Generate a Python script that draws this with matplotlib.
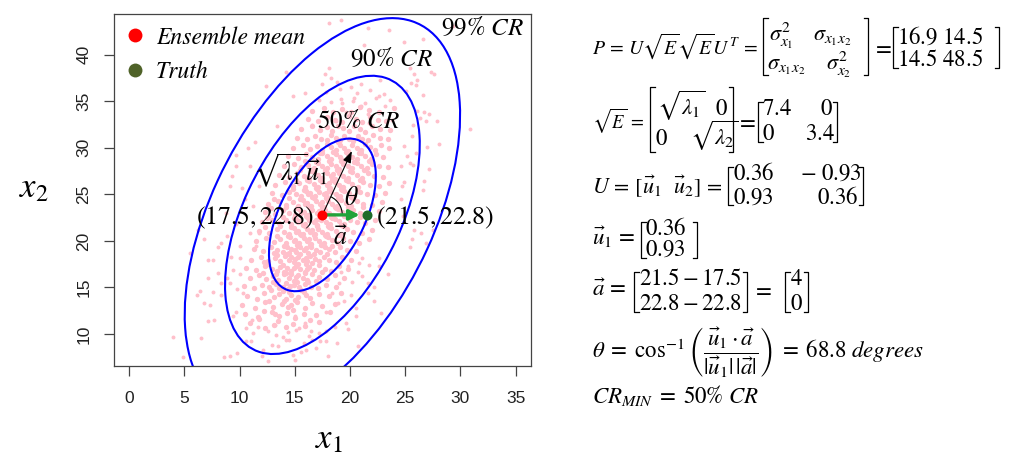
import numpy as np
import matplotlib
matplotlib.use("Agg")
import matplotlib.pyplot as plt
from matplotlib.patches import Ellipse, Arc
from matplotlib.lines import Line2D

plt.rcParams['mathtext.fontset'] = 'stix'

# ---------------- data ----------------
mean_pt = [17.5, 22.8]
truth_pt = [21.5, 22.8]
cov_P = [[16.9, 14.5], [14.5, 48.5]]
cr_levels = [0.50, 0.90, 0.99]
cr_labels = [r'$50\%\ CR$', r'$90\%\ CR$', r'$99\%\ CR$']
x_ticks = [0, 5, 10, 15, 20, 25, 30, 35]
y_ticks = [10, 15, 20, 25, 30, 35, 40]
x_range = [0, 35]
y_range = [8, 43]

# ensemble members: sparse outer members
ensemble_outer = [
(12.4,36.6),(13.4,32.3),(19.2,43.7),(18.1,43.4),(21.6,42.9),(23.5,42.7),(21.3,41.1),(18.1,38.6),(17.7,37.9),(18.3,37.5),
(17.5,36.9),(20.1,36.5),(15.9,35.9),(20.4,35.4),(19.3,34.8),(21.0,34.5),(22.6,35.6),(23.2,34.5),(19.6,33.8),(21.7,32.7),
(16.6,32.5),(18.7,32.9),(23.8,33.0),(22.6,33.8),(21.6,33.6),(14.2,38.1),(14.8,35.6),(26.6,41.7),(24.9,41.4),(25.4,38.6),
(25.8,37.9),(26.1,37.3),(27.3,38.1),(27.6,37.9),(25.5,37.0),(26.0,36.8),(26.6,35.7),(25.1,36.1),(26.1,34.0),(26.7,33.8),
(27.2,33.6),(27.9,32.9),(26.9,32.9),(25.7,32.5),(26.3,33.2),(30.9,32.0),(29.3,43.1),(27.0,30.1),(28.1,30.4),(27.2,27.7),
(26.7,26.4),(26.6,25.5),(27.5,21.2),(26.4,20.9),(26.9,19.8),(25.8,21.2),(25.6,20.2),(25.4,19.3),(24.8,22.7),(25.6,31.3),
(24.9,30.2),(25.2,29.1),(24.6,28.1),(25.4,28.4),(24.9,26.3),(24.7,25.9),(24.6,24.5),(26.0,29.5),(25.7,28.2),(11.4,30.6),
(10.8,30.0),(9.7,29.2),(10.9,28.0),(9.7,28.0),(9.3,27.0),(10.2,25.7),(9.1,25.9),(10.5,24.5),(8.8,23.0),(9.7,21.8),
(10.9,20.9),(6.8,20.2),(8.9,20.5),(6.2,21.2),(8.3,19.8),(8.0,19.3),(10.0,19.5),(11.5,19.5),(11.8,20.9),(12.7,22.7),
(11.2,23.8),(11.8,25.9),(4.0,9.7),(4.9,7.5),(6.5,9.6),(7.1,11.4),(7.7,11.5),(6.8,13.3),(7.3,13.1),(6.4,14.6),
(6.1,14.2),(7.6,14.5),(8.0,16.6),(7.1,16.0),(7.6,18.0),(7.1,18.0),(8.3,15.5),(8.3,14.2),(5.5,18.7),(9.1,7.6),
(8.6,7.5),(9.7,12.4),(9.4,11.9),(10.6,9.2),(9.8,8.0),(10.6,10.6),(11.1,11.5),(11.7,10.8),(12.0,7.6),(12.6,7.1),
(13.2,11.0),(9.4,16.9),(10.0,16.4),(9.8,14.8),(10.3,14.4),(9.1,15.5),(8.9,16.0),(9.2,18.3),(10.0,18.2),(22.6,17.3),
(23.4,16.4),(22.2,13.5),(22.8,12.3),(20.7,8.7),(19.6,11.2),(19.8,10.5),(20.5,11.9),(19.5,13.5),(20.5,12.8),(20.1,14.2),
(21.6,14.4),(21.6,15.5),(20.8,17.6),(21.1,18.2),(21.7,17.4),(22.6,18.2),(20.2,15.6),(19.0,15.5),(18.4,14.4),(18.9,13.3),
(17.8,12.4),(18.6,10.8),(17.2,10.1),(18.8,9.0),(17.8,9.2),(18.0,7.6),(15.0,7.2),(16.0,8.3),(16.6,9.4),(16.5,10.3),
(15.4,10.6),(14.5,9.4),(15.9,11.2),(15.0,11.9),(22.2,15.1),(19.2,16.7),(19.8,17.3),(20.7,16.7),(21.1,16.2),
(12.1,8.3),(14.8,7.8),(16.9,8.5),(15.6,8.1),(11.0,9.2),(12.9,8.8),(14.2,9.4),(15.8,9.0),(13.5,8.7),(17.3,9.3),
(11.2,10.1),(13.9,9.7),(15.1,10.4),(12.6,10.3),(16.3,9.8),(14.4,10.2),(13.3,9.9),(17.8,10.3),
(17.8,36.0),(19.1,36.3),(20.6,35.9),(21.8,36.2),(23.1,35.8),(18.8,37.1),(21.0,36.9),(22.7,37.3),
(17.2,35.1),(18.3,34.9),(19.2,35.3),(20.3,35.0),(21.4,34.8),(22.4,35.4),(23.6,35.1),
]

# dense core members (approximate)
ensemble_core = [
(10.9,11.2),(12.3,10.7),(13.5,11.4),(14.8,11.1),(15.9,10.9),(17.2,11.3),(13.1,11.0),(11.8,11.6),(14.2,10.8),(16.4,11.5),
(10.5,12.1),(11.7,11.8),(12.9,12.4),(13.6,11.9),(14.3,12.3),(15.0,11.7),(15.8,12.2),(16.9,12.0),(18.2,12.4),(14.8,12.6),(13.2,12.1),(12.2,12.5),
(10.2,13.1),(11.4,12.8),(12.3,13.4),(13.0,12.9),(13.8,13.2),(14.4,12.9),(15.2,13.4),(15.9,12.8),(16.6,13.3),(17.5,13.0),(14.0,13.6),(12.7,13.6),(14.7,13.1),(18.6,13.2),
(10.7,14.1),(11.6,13.8),(12.2,14.4),(13.1,14.0),(13.6,14.3),(14.2,13.8),(14.7,14.2),(15.3,14.0),(15.8,14.5),(16.4,13.9),(17.2,14.3),(18.1,14.1),(13.9,14.6),(15.0,13.7),(12.8,14.7),(14.5,14.5),(16.0,14.2),(19.2,14.4),
(10.4,15.2),(11.3,14.9),(12.0,15.3),(12.7,15.0),(13.3,15.4),(13.9,15.1),(14.4,14.8),(14.9,15.3),(15.4,15.0),(15.9,15.4),(16.5,15.1),(17.1,14.9),(17.8,15.3),(18.7,15.0),(14.2,15.5),(15.6,14.7),(13.0,15.6),(16.2,15.6),(14.6,15.2),(15.2,15.6),(13.6,14.9),
(10.9,16.0),(11.8,16.3),(12.4,15.9),(13.0,16.2),(13.5,15.8),(14.0,16.4),(14.5,16.0),(14.9,15.7),(15.3,16.3),(15.7,16.0),(16.1,15.8),(16.6,16.4),(17.2,16.1),(17.9,15.9),(18.6,16.3),(19.5,16.0),(14.2,16.6),(15.9,16.6),(13.3,16.5),(16.9,15.7),(12.1,16.6),(15.1,16.1),(14.7,16.5),
(10.6,17.1),(11.5,16.9),(12.3,17.3),(12.9,17.0),(13.4,16.8),(13.9,17.4),(14.3,17.1),(14.7,16.8),(15.1,17.3),(15.5,17.0),(15.9,16.7),(16.3,17.2),(16.7,16.9),(17.2,17.4),(17.7,17.0),(18.3,16.8),(19.0,17.3),(19.8,17.0),(14.0,16.7),(15.3,17.5),(16.0,17.5),(12.6,17.5),(17.5,16.7),(13.7,17.2),(14.9,17.1),(16.1,17.0),
(11.0,18.0),(11.9,18.3),(12.6,17.9),(13.2,18.2),(13.7,17.8),(14.1,18.4),(14.5,18.0),(14.9,17.7),(15.3,18.3),(15.7,18.0),(16.1,17.8),(16.4,18.4),(16.8,18.1),(17.2,17.8),(17.6,18.3),(18.1,18.0),(18.7,17.7),(19.3,18.3),(20.1,18.0),(14.3,18.6),(15.5,18.6),(16.6,17.6),(13.4,18.5),(17.9,18.6),(15.0,18.1),(12.2,17.7),(16.0,18.2),(14.7,18.3),
(11.3,19.1),(12.1,18.9),(12.8,19.3),(13.4,19.0),(13.9,18.8),(14.3,19.4),(14.7,19.1),(15.1,18.8),(15.5,19.3),(15.8,19.0),(16.2,18.7),(16.5,19.3),(16.9,19.0),(17.3,18.8),(17.7,19.4),(18.1,19.1),(18.6,18.8),(19.1,19.3),(19.7,19.0),(20.5,18.9),(14.0,19.5),(15.3,19.5),(16.4,19.6),(17.5,19.6),(13.1,18.7),(18.4,19.5),(15.0,19.0),(16.7,18.6),(14.5,18.7),(16.0,19.2),
(11.5,20.0),(12.4,20.3),(13.1,19.9),(13.7,20.2),(14.2,19.8),(14.6,20.4),(15.0,20.1),(15.4,19.8),(15.8,20.3),(16.1,20.0),(16.5,19.7),(16.8,20.3),(17.2,20.0),(17.6,19.8),(18.0,20.4),(18.4,20.1),(18.9,19.8),(19.4,20.3),(20.0,20.0),(20.8,19.8),(21.7,20.2),(14.4,20.5),(15.6,20.6),(16.7,20.6),(17.8,20.5),(13.4,20.5),(19.1,20.6),(15.2,19.6),(16.3,20.2),(17.4,19.6),(14.9,20.0),
(11.8,21.1),(12.7,20.9),(13.4,21.3),(14.0,21.0),(14.5,20.8),(14.9,21.4),(15.3,21.1),(15.7,20.8),(16.1,21.3),(16.4,21.0),(16.8,20.7),(17.1,21.3),(17.5,21.0),(17.9,20.8),(18.3,21.4),(18.7,21.1),(19.2,20.8),(19.7,21.3),(20.3,21.0),(21.1,20.9),(22.0,21.2),(14.7,21.5),(15.9,21.6),(17.0,21.6),(18.1,21.5),(13.7,21.6),(19.4,21.6),(15.5,20.7),(16.6,21.2),(17.7,20.6),(15.1,21.0),(18.9,20.6),(12.3,21.5),
(12.0,22.0),(12.9,22.3),(13.6,21.9),(14.2,22.2),(14.7,21.8),(15.1,22.4),(15.5,22.1),(15.9,21.8),(16.3,22.3),(16.7,22.0),(17.0,21.7),(17.4,22.3),(17.8,22.0),(18.2,21.8),(18.6,22.4),(19.0,22.1),(19.5,21.8),(20.0,22.3),(20.6,22.0),(21.4,21.9),(22.3,22.2),(14.9,22.5),(16.1,22.6),(17.2,22.6),(18.4,22.5),(13.9,22.6),(19.7,22.6),(15.7,21.7),(16.9,22.2),(18.0,21.6),(15.3,22.0),(19.2,21.7),(12.5,22.5),(20.9,22.6),
(12.3,23.1),(13.2,22.9),(13.9,23.3),(14.5,23.0),(15.0,22.8),(15.4,23.4),(15.8,23.1),(16.2,22.8),(16.6,23.3),(17.0,23.0),(17.3,22.7),(17.7,23.3),(18.1,23.0),(18.5,22.8),(18.9,23.4),(19.3,23.1),(19.8,22.8),(20.3,23.3),(20.9,23.0),(21.7,22.9),(22.6,23.2),(15.2,23.5),(16.4,23.6),(17.5,23.6),(18.7,23.5),(14.2,23.6),(20.0,23.6),(16.0,22.7),(17.2,23.2),(18.3,22.6),(15.6,23.0),(19.5,22.7),(12.8,23.5),(21.2,23.6),
(12.6,24.0),(13.5,24.3),(14.2,23.9),(14.8,24.2),(15.3,23.8),(15.7,24.4),(16.1,24.1),(16.5,23.8),(16.9,24.3),(17.3,24.0),(17.6,23.7),(18.0,24.3),(18.4,24.0),(18.8,23.8),(19.2,24.4),(19.6,24.1),(20.1,23.8),(20.6,24.3),(21.2,24.0),(22.0,23.9),(22.9,24.2),(15.5,24.5),(16.7,24.6),(17.8,24.6),(19.0,24.5),(14.5,24.6),(20.3,24.6),(16.3,23.7),(17.5,24.2),(18.6,23.6),(15.9,24.0),(19.8,23.7),(13.1,24.5),
(12.9,25.1),(13.8,24.9),(14.5,25.3),(15.1,25.0),(15.6,24.8),(16.0,25.4),(16.4,25.1),(16.8,24.8),(17.2,25.3),(17.6,25.0),(17.9,24.7),(18.3,25.3),(18.7,25.0),(19.1,24.8),(19.5,25.4),(19.9,25.1),(20.4,24.8),(20.9,25.3),(21.5,25.0),(22.3,24.9),(23.2,25.2),(15.8,25.5),(17.0,25.6),(18.1,25.6),(19.3,25.5),(14.8,25.6),(20.6,25.6),(16.6,24.7),(17.8,25.2),(18.9,24.6),(16.2,25.0),(20.1,24.7),
(13.2,26.0),(14.1,26.3),(14.8,25.9),(15.4,26.2),(15.9,25.8),(16.3,26.4),(16.7,26.1),(17.1,25.8),(17.5,26.3),(17.9,26.0),(18.2,25.7),(18.6,26.3),(19.0,26.0),(19.4,25.8),(19.8,26.4),(20.2,26.1),(20.7,25.8),(21.2,26.3),(21.8,26.0),(22.6,25.9),(23.5,26.2),(16.1,26.5),(17.3,26.6),(18.4,26.6),(19.6,26.5),(15.1,26.6),(20.9,26.6),(16.9,25.7),(18.1,26.2),(19.2,25.6),
(13.6,27.1),(14.5,26.9),(15.2,27.3),(15.8,27.0),(16.3,26.8),(16.7,27.4),(17.1,27.1),(17.5,26.8),(17.9,27.3),(18.3,27.0),(18.6,26.7),(19.0,27.3),(19.4,27.0),(19.8,26.8),(20.2,27.4),(20.6,27.1),(21.1,26.8),(21.6,27.3),(22.2,27.0),(23.0,26.9),(16.5,27.5),(17.7,27.6),(18.8,27.6),(20.0,27.5),(15.5,27.6),(21.3,27.6),(17.3,26.7),(18.5,27.2),
(14.0,28.0),(14.9,28.3),(15.6,27.9),(16.2,28.2),(16.7,27.8),(17.1,28.4),(17.5,28.1),(17.9,27.8),(18.3,28.3),(18.7,28.0),(19.0,27.7),(19.4,28.3),(19.8,28.0),(20.2,27.8),(20.6,28.4),(21.0,28.1),(21.5,27.8),(22.0,28.3),(22.6,28.0),(23.4,27.9),(16.9,28.5),(18.1,28.6),(19.2,28.6),(20.4,28.5),(15.9,28.6),(21.7,28.6),
(14.4,29.1),(15.3,28.9),(16.0,29.3),(16.6,29.0),(17.1,28.8),(17.5,29.4),(17.9,29.1),(18.3,28.8),(18.7,29.3),(19.1,29.0),(19.4,28.7),(19.8,29.3),(20.2,29.0),(20.6,28.8),(21.0,29.4),(21.4,29.1),(21.9,28.8),(22.4,29.3),(23.0,29.0),(17.3,29.5),(18.5,29.6),(19.6,29.6),(20.8,29.5),
(14.8,30.0),(15.7,30.3),(16.4,29.9),(17.0,30.2),(17.5,29.8),(17.9,30.4),(18.3,30.1),(18.7,29.8),(19.1,30.3),(19.5,30.0),(19.8,29.7),(20.2,30.3),(20.6,30.0),(21.0,29.8),(21.4,30.4),(21.8,30.1),(22.3,29.8),(22.8,30.3),(23.5,30.0),(18.9,30.6),
(15.2,31.1),(16.1,30.9),(16.8,31.3),(17.4,31.0),(17.9,30.8),(18.3,31.4),(18.7,31.1),(19.1,30.8),(19.5,31.3),(19.9,31.0),(20.3,30.7),(20.7,31.3),(21.1,31.0),(21.6,30.8),(22.1,31.4),(22.7,31.1),(23.4,30.9),
(15.6,32.0),(16.6,32.3),(17.3,31.9),(17.9,32.2),(18.4,31.8),(18.9,32.4),(19.4,32.1),(19.9,31.8),(20.4,32.3),(20.9,32.0),(21.4,31.7),(22.0,32.3),(22.7,32.0),(23.6,31.9),
(16.2,33.1),(17.1,32.9),(17.9,33.3),(18.6,33.0),(19.3,32.8),(19.9,33.4),(20.5,33.1),(21.1,32.8),(21.8,33.3),(22.5,33.0),(23.3,32.9),
(16.6,34.0),(17.6,34.3),(18.5,33.9),(19.3,34.2),(20.1,33.8),(20.9,34.4),(21.7,34.1),(22.6,33.8),(24.0,34.3),
]

# ---------------- figure ----------------
W, H = 1013, 459
fig = plt.figure(figsize=(W / 100, H / 100), dpi=100)
renderer = fig.canvas.get_renderer()

def fx(px):
    return px / W

def fy(py):
    return 1 - py / H

ax = fig.add_axes([fx(113.8), fy(365.7), (531 - 113.8) / W, (365.7 - 13.8) / H])

po = np.array(ensemble_outer)
pc = np.array(ensemble_core)
ax.scatter(po[:, 0], po[:, 1], s=8, color='#FFC0CB', linewidths=0, zorder=1)
ax.scatter(pc[:, 0], pc[:, 1], s=15, color='#FFC0CB', linewidths=0, zorder=1)

P = np.array(cov_P)
vals, vecs = np.linalg.eigh(P)
lam1, lam2 = vals[1], vals[0]
u1 = vecs[:, 1] * np.sign(vecs[1, 1])
ang = np.degrees(np.arctan2(u1[1], u1[0]))
for p in cr_levels:
    k = -2 * np.log(1 - p)
    ax.add_patch(Ellipse(mean_pt, 2 * np.sqrt(k * lam1), 2 * np.sqrt(k * lam2),
                         angle=ang, fill=False, ec='#0000FF', lw=1.5, zorder=2))

# eigenvector arrow
tip = np.array(mean_pt) + np.sqrt(lam1) * u1
ax.annotate('', xy=tip, xytext=mean_pt,
            arrowprops=dict(arrowstyle='-|>,head_length=0.7,head_width=0.25', color='black',
                            lw=0.8, shrinkA=0, shrinkB=0), zorder=3)
# angle arc
ax.add_patch(Arc(mean_pt, 3.6, 4.3, theta1=0, theta2=ang, color='black', lw=0.8, zorder=3))
# a vector
ax.annotate('', xy=truth_pt, xytext=mean_pt,
            arrowprops=dict(arrowstyle='-|>,head_length=0.6,head_width=0.3', color='#22A33A',
                            lw=2.4, shrinkA=0, shrinkB=5), zorder=4)
ax.plot(*mean_pt, 'o', color='#FF0000', ms=7.2, mec='none', zorder=5)
ax.plot(*truth_pt, 'o', color='#1E6B2A', ms=7.2, mec='none', zorder=5)

ax.set_xlim(x_range[0] - 0.04 * (x_range[1] - x_range[0]), x_range[1] + 0.04 * (x_range[1] - x_range[0]))
ax.set_ylim(y_range[0] - 0.04 * (y_range[1] - y_range[0]), y_range[1] + 0.04 * (y_range[1] - y_range[0]))
ax.set_xticks(x_ticks)
ax.set_yticks(y_ticks)
ax.set_xticklabels([str(t) for t in x_ticks], fontfamily='Liberation Sans', fontsize=12.5, color='#222222')
ax.set_yticklabels([str(t) for t in y_ticks], fontfamily='Liberation Sans', fontsize=12.5, color='#222222',
                   rotation=90, va='center')
ax.tick_params(axis='x', length=7.2, width=0.9, color='#444444', pad=11)
ax.tick_params(axis='y', length=7.2, width=0.9, color='#444444', pad=9)
for sp in ax.spines.values():
    sp.set_color('#444444')
    sp.set_linewidth(0.9)

# legend
handles = [Line2D([], [], marker='o', ls='', color='#FF0000', ms=10, mec='none'),
           Line2D([], [], marker='o', ls='', color='#4F6228', ms=10, mec='none')]
ax.legend(handles, ['Ensemble mean', 'Truth'], loc='upper left', bbox_to_anchor=(0.022, 0.965),
          borderaxespad=0, borderpad=0, frameon=False, handlelength=1.0, handletextpad=0.4,
          labelspacing=0.5, prop=dict(family='STIXGeneral', style='italic', size=17))

def T(px, py, s, size=18, ha='left', va='baseline', fit_right=None, **kw):
    t = fig.text(fx(px), fy(py), s, fontsize=size, ha=ha, va=va, **kw)
    if fit_right is not None:
        w = t.get_window_extent(renderer).width
        if px + w > fit_right:
            t.set_fontsize(size * (fit_right - px) / w)
    return t

# CR labels
T(440.7, 35, cr_labels[2])
T(350, 66, cr_labels[1])
T(316.5, 128, cr_labels[0])
T(253, 181, r'$\sqrt{\lambda_1}\vec{u}_1$', size=18.5)
T(351.7, 205, r'$\theta$', ha='center', size=18.5)
T(314.5, 224, r'$(17.5,\!\,22.8)$', ha='right', size=18.5)
T(376, 224, r'$(21.5,\!\,22.8)$', size=18.5)
T(340.7, 245, r'$\vec{a}$', ha='center', size=18.5)

# axis labels
T(329, 448, r'$x_1$', size=25, ha='center')
T(33.6, 197, r'$x_2$', size=25, ha='center')

# ---------------- equations ----------------
def bracket(x0, x1, y0, y1, serif=4.5, lw=0.9):
    for xs, d in ((x0, 1), (x1, -1)):
        fig.add_artist(Line2D([fx(xs + d * serif), fx(xs), fx(xs), fx(xs + d * serif)],
                              [fy(y0), fy(y0), fy(y1), fy(y1)], color='black', lw=lw))

ES = 16.5
# line 1
T(592, 54, r'$P\,=\,U\sqrt{E}\sqrt{E}U^T\,=$', size=ES, fit_right=757)
bracket(763, 868, 18, 75)
T(769, 41, r'$\sigma_{x_1}^2$', size=16)
T(813, 41, r'$\sigma_{x_1x_2}$', size=16)
T(767, 69.5, r'$\sigma_{x_1x_2}$', size=16)
T(826, 69.5, r'$\sigma_{x_2}^2$', size=16)
T(882, 54, r'$=$', size=ES, ha='center')
bracket(893, 999, 27, 68)
T(897, 43.5, r'$16.9\ 14.5$', size=ES)
T(897, 65.5, r'$14.5\ 48.5$', size=ES)
# line 2
T(592, 128, r'$\sqrt{E}\,=$', size=ES, fit_right=644)
bracket(650, 733, 87, 152)
T(657, 115, r'$\sqrt{\lambda_1}$', size=ES)
T(715, 115, r'$0$', size=ES)
T(655, 145, r'$0$', size=ES)
T(690, 145, r'$\sqrt{\lambda_2}$', size=ES)
T(746, 128, r'$=$', size=ES, ha='center')
bracket(758, 837, 102, 142)
T(762, 115, r'$7.4$', size=ES)
T(820, 115, r'$0$', size=ES)
T(762, 140, r'$0$', size=ES)
T(805, 140, r'$3.4$', size=ES)
# line 3
T(592, 193, r'$U\,=\,[\vec{u}_1\ \ \vec{u}_2]\,=$', size=ES, fit_right=722)
bracket(728, 863, 167, 205)
T(733, 180, r'$0.36$', size=ES)
T(800, 180, r'$-\ 0.93$', size=ES)
T(733, 204, r'$0.93$', size=ES)
T(858, 204, r'$0.36$', size=ES, ha='right')
# line 4
T(592, 245, r'$\vec{u}_1\,=$', size=ES, fit_right=636)
bracket(641, 697, 222, 258)
T(645, 235, r'$0.36$', size=ES)
T(645, 256, r'$0.93$', size=ES)
# line 5
T(592, 296, r'$\vec{a}\,=$', size=ES, fit_right=629)
bracket(634, 747, 272, 312)
T(639, 285, r'$21.5 - 17.5$', size=ES)
T(639, 310, r'$22.8 - 22.8$', size=ES)
T(762, 296, r'$=$', size=ES, ha='center')
bracket(785, 808, 272, 312)
T(796.5, 285, r'$4$', size=ES, ha='center')
T(796.5, 310, r'$0$', size=ES, ha='center')
# line 6
T(592, 358, r'$\theta\;=\;\cos^{-1}\left(\dfrac{\vec{u}_1\cdot\vec{a}}{|\vec{u}_1|\,|\vec{a}|}\right)\;=\;68.8\ degrees$', size=ES)
# line 7
T(592, 403, r'$CR_{MIN}\;=\;50\%\ CR$', size=ES)

fig.savefig('out.png', dpi=100)
